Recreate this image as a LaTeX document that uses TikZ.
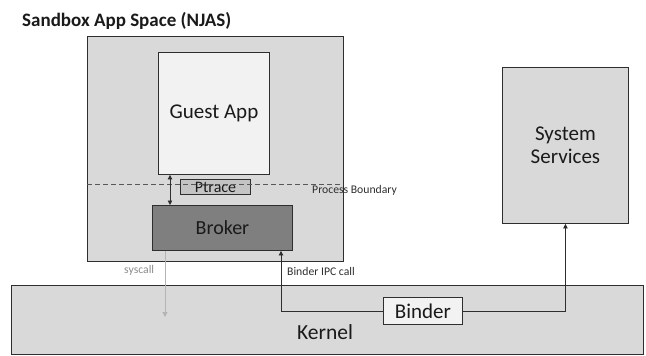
\documentclass[tikz,border=0pt]{standalone}
\usepackage{fontspec}
\setmainfont{Carlito}
\usetikzlibrary{arrows.meta}
\definecolor{panel}{HTML}{D9D9D9}
\definecolor{paper}{HTML}{F2F2F2}
\definecolor{ptracefill}{HTML}{C4C4C4}
\definecolor{brokerfill}{HTML}{7F7F7F}
\definecolor{edge}{HTML}{2E2E2E}
\definecolor{softline}{HTML}{B4B4B4}
\definecolor{softtext}{HTML}{8C8C8C}
\definecolor{ink}{HTML}{1A1A1A}
\tikzset{
  box/.style={draw=edge, line width=0.9pt, anchor=north west, inner sep=0pt, align=center, text=ink},
  tip/.style={-{Triangle[width=4.5pt,length=4.5pt]}},
  wire/.style={draw=edge, line width=0.8pt},
  smalllabel/.style={anchor=west, inner sep=0pt, font=\fontsize{11.7}{13}\selectfont, text=edge}
}
\begin{document}
\begin{tikzpicture}[x=1pt, y=-1pt]
\useasboundingbox (0,0) rectangle (646,356);

% title
\node[anchor=west, inner sep=0pt, text=ink, font=\bfseries\fontsize{19}{21}\selectfont] (title) at (22,21) {Sandbox App Space (NJAS)};

% sandbox panel and its contents
\node[box, fill=panel, minimum width=256pt, minimum height=225pt] (njas) at (87,36) {};
\node[box, fill=paper, minimum width=111pt, minimum height=122pt, font=\fontsize{21}{23}\selectfont] (guest) at (158,52) {Guest App};
\node[box, fill=ptracefill, minimum width=70pt, minimum height=15pt, font=\fontsize{16}{17}\selectfont] (ptrace) at (180,179) {Ptrace};
\node[box, fill=brokerfill, minimum width=140pt, minimum height=45pt, font=\fontsize{20}{22}\selectfont] (broker) at (152,205) {Broker};

% process boundary
\coordinate (pbl) at (87,184);
\coordinate (pbr) at (343,184);
\draw[draw=edge!80, line width=0.9pt, dash pattern=on 5pt off 3pt] (pbl) -- (pbr);
\node[smalllabel] (pblabel) at (312,190) {Process Boundary};

% guest app <-> broker
\coordinate (gb) at (170,0);
\draw[wire, {Triangle[width=4.5pt,length=4.5pt]}-{Triangle[width=4.5pt,length=4.5pt]}] (guest.south -| gb) -- (broker.north -| gb);

% system services
\node[box, fill=panel, minimum width=126pt, minimum height=156pt, font=\fontsize{21}{23}\selectfont] (sys) at (502,67) {System\\Services};

% kernel
\node[box, fill=panel, minimum width=632pt, minimum height=69pt] (kernel) at (11,285) {};
\node[inner sep=0pt, text=ink, font=\fontsize{21.5}{23}\selectfont] (kernellabel) at (325,332) {Kernel};
\node[box, fill=paper, minimum width=79pt, minimum height=27pt, font=\fontsize{21}{23}\selectfont] (binder) at (383,297) {Binder};

% syscall
\coordinate (sx) at (165,0);
\coordinate (sxend) at (165,317);
\draw[draw=softline, line width=1pt, -{Triangle[width=5pt,length=5pt]}, color=softline] (broker.south -| sx) -- (sxend);
\node[smalllabel, text=softtext] (syscall) at (124,270) {syscall};

% binder IPC paths
\coordinate (ipcx) at (281,0);
\draw[wire, tip] (binder.west) -| (broker.south -| ipcx);
\draw[wire, tip] (binder.east) -| (sys.south);
\node[smalllabel] (ipclabel) at (287,271) {Binder IPC call};
\end{tikzpicture}
\end{document}
